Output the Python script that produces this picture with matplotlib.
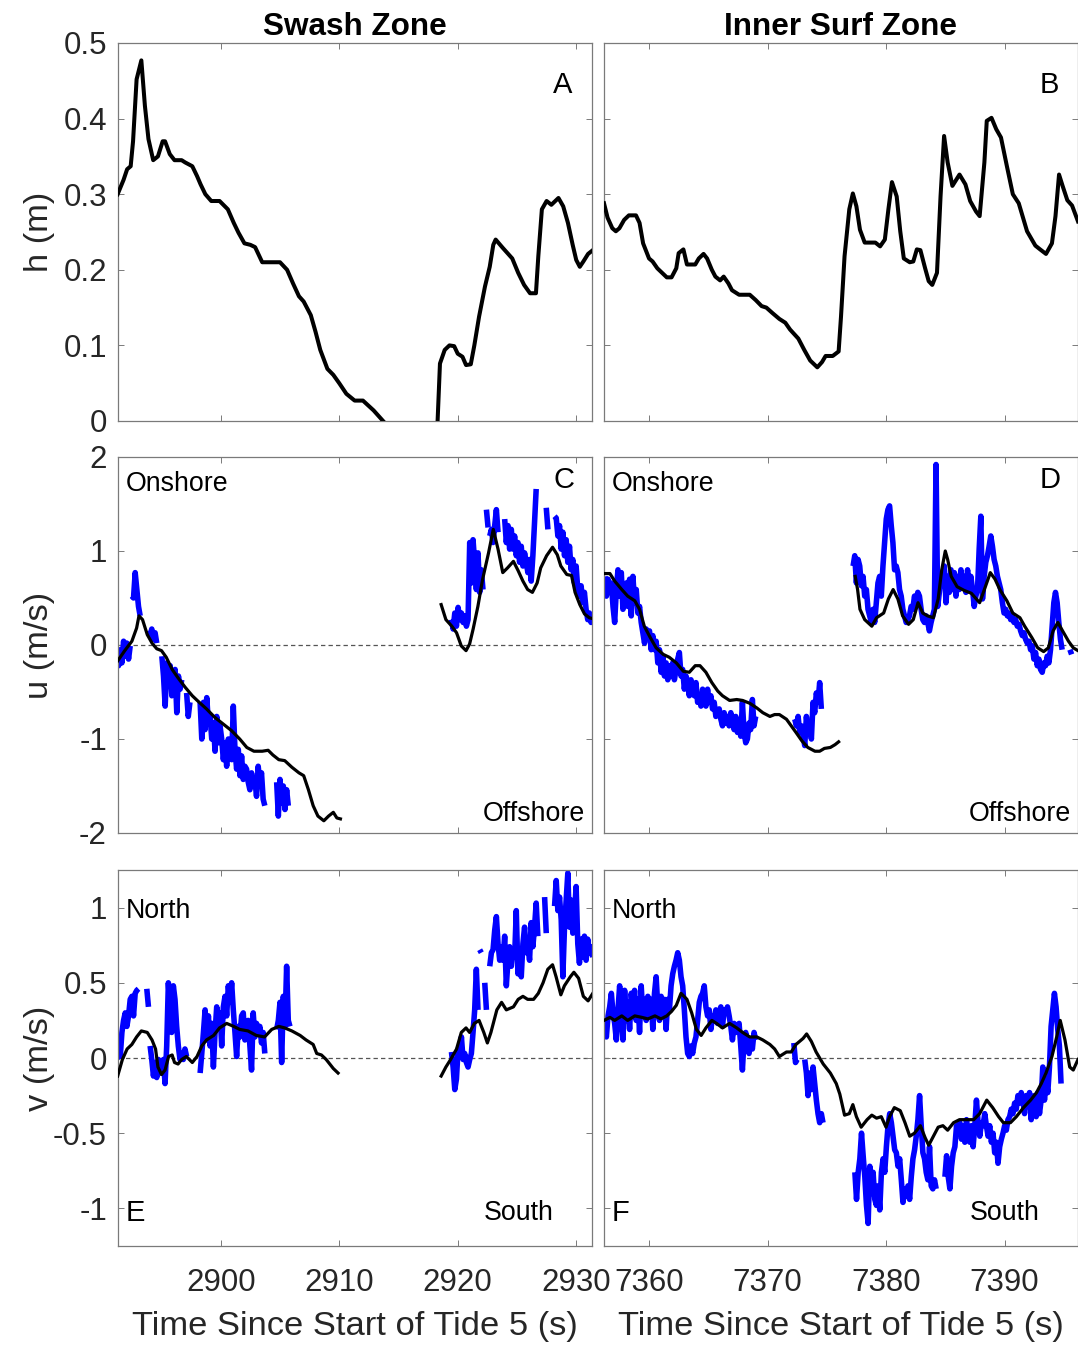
import numpy as np
import matplotlib
matplotlib.use("Agg")
import matplotlib.pyplot as plt

plt.rcParams['font.family'] = ['Liberation Sans', 'DejaVu Sans']
plt.rcParams['axes.unicode_minus'] = False

nan = np.nan

# ---------------- data ----------------
# panel A: water depth, swash zone
a_t = [2891.3, 2891.8, 2892.1, 2892.4, 2892.6, 2892.9, 2893.3, 2893.6, 2893.9, 2894.3,
       2894.7, 2895.1, 2895.3, 2895.7, 2896.1, 2896.7, 2897.0, 2897.6, 2898.0, 2898.3,
       2898.7, 2899.2, 2899.9, 2900.6, 2901.1, 2901.5, 2902.0, 2902.5, 2902.9, 2903.5,
       2904.2, 2905.0, 2905.6, 2906.1, 2906.6, 2907.0, 2907.6, 2908.0, 2908.4, 2909.0,
       2909.5, 2910.0, 2910.6, 2911.3, 2912.0, 2912.9, 2913.7, nan,
       2918.3, 2918.5, 2918.9, 2919.3, 2919.7, 2920.0, 2920.4, 2920.7, 2921.1, 2921.4,
       2921.8, 2922.3, 2922.7, 2923.0, 2923.2, 2923.8, 2924.6, 2925.1, 2925.6, 2926.1,
       2926.6, 2926.8, 2927.1, 2927.5, 2927.9, 2928.5, 2928.9, 2929.3, 2929.7, 2930.0,
       2930.3, 2930.6, 2931.0, 2931.4]
a_h = [0.300, 0.319, 0.333, 0.337, 0.370, 0.452, 0.477, 0.417, 0.373, 0.345,
       0.350, 0.370, 0.370, 0.353, 0.345, 0.345, 0.342, 0.337, 0.324, 0.313,
       0.300, 0.291, 0.291, 0.280, 0.262, 0.249, 0.235, 0.233, 0.230, 0.210,
       0.210, 0.210, 0.200, 0.182, 0.165, 0.158, 0.140, 0.118, 0.094, 0.069,
       0.061, 0.050, 0.036, 0.027, 0.027, 0.014, 0.0, nan,
       0.0, 0.076, 0.094, 0.100, 0.099, 0.089, 0.085, 0.074, 0.075, 0.100,
       0.138, 0.178, 0.204, 0.233, 0.240, 0.229, 0.215, 0.196, 0.180, 0.169,
       0.169, 0.218, 0.280, 0.291, 0.286, 0.295, 0.284, 0.262, 0.233, 0.213,
       0.204, 0.211, 0.221, 0.226]

# panel B: water depth, inner surf zone
b_t = [7356.2, 7356.5, 7356.9, 7357.2, 7357.5, 7357.9, 7358.3, 7358.9, 7359.2, 7359.5,
       7360.0, 7360.3, 7360.7, 7361.1, 7361.5, 7361.9, 7362.3, 7362.5, 7362.9, 7363.2,
       7363.9, 7364.2, 7364.6, 7364.9, 7365.3, 7365.6, 7366.0, 7366.3, 7366.7, 7367.0,
       7367.6, 7368.5, 7369.0, 7369.5, 7369.9, 7370.4, 7371.0, 7371.5, 7371.9, 7372.6,
       7373.1, 7373.6, 7374.2, 7374.6, 7374.9, 7375.5, 7376.0, 7376.2, 7376.5, 7376.9,
       7377.2, 7377.5, 7377.8, 7378.2, 7379.1, 7379.5, 7379.9, 7380.2, 7380.5, 7380.9,
       7381.2, 7381.5, 7382.0, 7382.3, 7382.6, 7382.9, 7383.3, 7383.6, 7383.9, 7384.3,
       7384.6, 7384.9, 7385.2, 7385.6, 7386.2, 7386.7, 7387.1, 7387.6, 7387.9, 7388.3,
       7388.5, 7388.9, 7389.3, 7389.7, 7390.2, 7390.7, 7391.2, 7391.9, 7392.6, 7393.0,
       7393.5, 7394.0, 7394.3, 7394.6, 7394.9, 7395.3, 7395.7, 7396.2]
b_h = [0.288, 0.269, 0.255, 0.251, 0.255, 0.266, 0.272, 0.272, 0.262, 0.235,
       0.215, 0.211, 0.202, 0.196, 0.190, 0.190, 0.202, 0.222, 0.227, 0.207,
       0.207, 0.215, 0.221, 0.215, 0.200, 0.191, 0.186, 0.191, 0.182, 0.173,
       0.167, 0.167, 0.160, 0.152, 0.150, 0.143, 0.135, 0.130, 0.121, 0.109,
       0.094, 0.080, 0.071, 0.078, 0.086, 0.086, 0.092, 0.138, 0.218, 0.280,
       0.301, 0.284, 0.253, 0.236, 0.236, 0.231, 0.240, 0.280, 0.316, 0.297,
       0.251, 0.215, 0.210, 0.211, 0.227, 0.226, 0.202, 0.185, 0.180, 0.196,
       0.297, 0.377, 0.342, 0.311, 0.326, 0.313, 0.291, 0.277, 0.271, 0.342,
       0.397, 0.401, 0.386, 0.375, 0.337, 0.300, 0.288, 0.251, 0.232, 0.227,
       0.221, 0.235, 0.271, 0.326, 0.311, 0.292, 0.285, 0.264]

# panel C: cross-shore velocity, swash zone (black = reference, blue = measured)
c_t = [2891.3, 2891.9, 2892.5, 2892.9, 2893.1, 2893.4, 2893.8, 2894.2, 2894.6, 2895.0,
       2895.4, 2895.9, 2896.4, 2897.0, 2897.6, 2898.1, 2898.8, 2899.5, 2900.2, 2900.9,
       2901.6, 2902.2, 2902.8, 2903.5, 2904.0, 2904.4, 2904.9, 2905.4, 2906.0, 2906.6,
       2907.0, 2907.4, 2907.8, 2908.2, 2908.7, 2909.1, 2909.5, 2909.8, 2910.1, nan,
       2918.6, 2919.0, 2919.5, 2919.9, 2920.3, 2920.7, 2921.0, 2921.3, 2921.7, 2922.1,
       2922.6, 2923.0, 2923.4, 2923.8, 2924.2, 2924.7, 2925.1, 2925.5, 2925.9, 2926.3,
       2926.7, 2927.0, 2927.5, 2928.0, 2928.4, 2928.7, 2929.2, 2929.6, 2929.9, 2930.3,
       2930.7, 2931.1, 2931.4]
c_u = [-0.17, -0.06, 0.04, 0.18, 0.31, 0.27, 0.11, 0.02, -0.04, -0.06,
       -0.13, -0.26, -0.35, -0.45, -0.54, -0.60, -0.68, -0.77, -0.84, -0.91,
       -1.00, -1.09, -1.13, -1.13, -1.12, -1.17, -1.22, -1.23, -1.30, -1.36,
       -1.39, -1.54, -1.71, -1.82, -1.87, -1.82, -1.78, -1.84, -1.85, nan,
       0.43, 0.27, 0.20, 0.13, -0.01, -0.06, 0.01, 0.17, 0.41, 0.70,
       0.98, 1.23, 1.02, 0.77, 0.82, 0.89, 0.79, 0.68, 0.59, 0.56,
       0.66, 0.82, 0.95, 1.04, 0.96, 0.84, 0.75, 0.74, 0.56, 0.43,
       0.33, 0.29, 0.28]

c_blue_t0 = [2891.24, 2892.50, 2893.90, 2895.03, 2897.12, 2898.26, 2904.72,
             2919.47, 2922.42, 2922.70, 2923.96, 2927.47, 2928.17]
c_blue_u = [
    [-0.12, -0.22, -0.05, -0.19, 0.04, -0.12, 0.02, -0.15, -0.01],
    [0.52, 0.50, 0.77, 0.59, 0.41, 0.31],
    [0.15, 0.10, 0.17, 0.06, 0.13, 0.02],
    [-0.12, -0.33, -0.65, -0.19, -0.40, -0.22, -0.54, -0.37, -0.26, -0.72, -0.33, -0.47, -0.37],
    [-0.51, -0.76, -0.61],
    [-0.61, -1.00, -0.61, -0.90, -0.56, -0.83, -0.76, -1.00, -0.83, -1.13, -0.76, -1.04,
     -0.86, -1.00, -1.22, -1.04, -1.29, -1.00, -1.15, -1.22, -0.65, -1.11, -1.32, -1.11,
     -1.39, -1.18, -1.43, -1.29, -1.32, -1.46, -1.54, -1.36, -1.46, -1.43, -1.61, -1.29,
     -1.46, -1.36, -1.64, -1.71],
    [-1.46, -1.82, -1.43, -1.68, -1.50, -1.75, -1.54, -1.71],
    [0.27, 0.17, 0.34, 0.20, 0.40, 0.27, 0.34, 0.24, 0.31, 0.20, 0.27, 1.09, 0.66, 1.12,
     0.88, 0.59, 0.98, 0.56, 0.80, 0.59],
    [1.44, 1.25],
    [1.16, 1.23, 1.09, 1.27, 1.44, 1.20],
    [1.34, 1.09, 1.27, 1.02, 1.23, 1.02, 1.16, 0.95, 1.09, 0.88, 1.05, 0.84, 0.98, 0.88,
     0.77, 0.91, 0.68, 0.95, 1.30, 1.66],
    [1.46, 1.23],
    [1.37, 1.35, 1.16, 1.27, 1.02, 1.20, 0.95, 1.12, 0.88, 1.05, 0.80, 0.91, 0.66, 0.84,
     0.59, 0.52, 0.63, 0.45, 0.56, 0.38, 0.27, 0.34, 0.24, 0.31],
]

# panel D: cross-shore velocity, inner surf zone
d_t = [7356.2, 7356.7, 7357.1, 7357.7, 7358.2, 7358.8, 7359.2, 7359.6, 7360.1, 7360.6,
       7361.2, 7361.7, 7362.3, 7362.9, 7363.4, 7363.9, 7364.3, 7364.8, 7365.3, 7365.8,
       7366.2, 7366.8, 7367.4, 7367.9, 7368.5, 7369.1, 7369.6, 7370.2, 7370.6, 7371.0,
       7371.6, 7372.0, 7372.4, 7372.9, 7373.4, 7374.0, 7374.4, 7374.8, 7375.3, 7375.7,
       7376.0, nan,
       7377.4, 7377.6, 7377.8, 7378.2, 7378.8, 7379.2, 7379.8, 7380.2, 7380.6, 7381.0,
       7381.4, 7381.9, 7382.3, 7382.7, 7383.1, 7383.5, 7384.0, 7384.4, 7384.7, 7385.0,
       7385.2, 7385.5, 7386.0, 7386.6, 7387.2, 7387.9, 7388.3, 7388.8, 7389.2, 7389.6,
       7390.2, 7390.7, 7391.3, 7391.7, 7392.3, 7392.8, 7393.3, 7393.7, 7394.1, 7394.5,
       7394.9, 7395.4, 7395.8, 7396.2]
d_u = [0.76, 0.76, 0.68, 0.59, 0.52, 0.47, 0.38, 0.20, 0.08, -0.03,
       -0.10, -0.13, -0.19, -0.28, -0.29, -0.22, -0.22, -0.29, -0.40, -0.49,
       -0.54, -0.59, -0.58, -0.59, -0.62, -0.67, -0.72, -0.76, -0.74, -0.74,
       -0.79, -0.86, -0.93, -1.02, -1.09, -1.13, -1.13, -1.10, -1.09, -1.06,
       -1.03, nan,
       0.73, 0.59, 0.38, 0.27, 0.20, 0.29, 0.34, 0.49, 0.59, 0.49,
       0.31, 0.22, 0.27, 0.45, 0.34, 0.31, 0.29, 0.49, 0.80, 1.00,
       0.91, 0.73, 0.62, 0.58, 0.55, 0.45, 0.59, 0.77, 0.70, 0.59,
       0.47, 0.34, 0.29, 0.20, 0.08, -0.03, -0.07, -0.03, 0.15, 0.24,
       0.15, 0.04, -0.03, -0.06]

d_blue_t0 = [7356.26, 7372.30, 7377.22, 7395.52]
d_blue_u = [
    [0.73, 0.52, 0.70, 0.56, 0.66, 0.41, 0.24, 0.59, 0.80, 0.52, 0.77, 0.38, 0.52, 0.66,
     0.41, 0.70, 0.31, 0.73, 0.45, 0.59, 0.34, 0.41, 0.24, 0.13, 0.02, 0.17, 0.10, 0.15,
     -0.05, 0.10, -0.05, 0.04, -0.19, -0.05, -0.29, -0.12, -0.33, -0.19, -0.37, -0.22,
     -0.33, -0.19, -0.37, -0.26, -0.15, -0.08, -0.33, -0.26, -0.47, -0.33, -0.40, -0.54,
     -0.37, -0.44, -0.54, -0.40, -0.61, -0.54, -0.65, -0.47, -0.54, -0.65, -0.47, -0.61,
     -0.54, -0.68, -0.61, -0.76, -0.72, -0.68, -0.79, -0.86, -0.72, -0.83, -0.76, -0.86,
     -0.72, -0.79, -0.90, -0.76, -0.93, -0.83, -0.97, -0.61, -0.93, -1.04, -1.00, -0.83,
     -0.90, -0.58, -0.86, -0.76],
    [-0.79, -0.86, -0.76, -0.93, -0.86, -0.97, -1.07, -0.76, -0.93, -0.83, -1.00, -0.61,
     -0.72, -0.51, -0.61, -0.40, -0.68],
    [0.84, 0.95, 0.66, 0.91, 0.84, 0.63, 0.73, 0.52, 0.59, 0.38, 0.31, 0.24, 0.38, 0.24,
     0.45, 0.66, 0.73, 0.52, 0.84, 1.09, 1.34, 1.44, 1.48, 1.27, 1.09, 0.80, 0.84, 0.77,
     0.59, 0.52, 0.38, 0.31, 0.24, 0.27, 0.31, 0.41, 0.38, 0.52, 0.45, 0.56, 0.52, 0.38,
     0.27, 0.24, 0.31, 0.24, 0.15, 0.24, 0.31, 0.38, 1.92, 0.41, 0.56, 0.73, 0.66, 0.84,
     0.45, 0.73, 0.56, 0.80, 0.59, 0.77, 0.52, 0.73, 0.59, 0.80, 0.63, 0.73, 0.56, 0.80,
     0.59, 0.73, 0.59, 0.41, 0.52, 0.59, 1.02, 1.37, 0.49, 0.73, 0.88, 0.95, 1.05, 1.16,
     1.05, 0.91, 0.84, 0.73, 0.66, 0.59, 0.45, 0.34, 0.38, 0.31, 0.34, 0.27, 0.31, 0.24,
     0.27, 0.20, 0.22, 0.15, 0.10, 0.13, 0.06, 0.02, 0.04, -0.05, -0.01, -0.15, -0.08,
     -0.22, -0.15, -0.26, -0.29, -0.19, -0.22, -0.12, -0.19, -0.05, 0.20, 0.45, 0.56,
     0.45, 0.24, 0.06, -0.05],
    [-0.05, -0.10],
]

# panel E: alongshore velocity, swash zone
e_t = [2891.3, 2891.7, 2892.1, 2892.5, 2892.9, 2893.3, 2893.8, 2894.2, 2894.5, 2894.7,
       2895.0, 2895.3, 2895.6, 2895.9, 2896.1, 2896.4, 2896.7, 2897.1, 2897.6, 2898.0,
       2898.4, 2898.8, 2899.4, 2899.9, 2900.5, 2901.1, 2901.6, 2902.3, 2903.0, 2903.7,
       2904.3, 2904.9, 2905.4, 2906.0, 2906.7, 2907.2, 2907.8, 2908.1, 2908.5, 2908.9,
       2909.5, 2909.9, nan,
       2918.6, 2919.0, 2919.4, 2919.9, 2920.3, 2920.7, 2921.0, 2921.4, 2921.8, 2922.2,
       2922.5, 2922.8, 2923.3, 2923.7, 2924.1, 2924.7, 2925.1, 2925.5, 2925.9, 2926.4,
       2926.8, 2927.2, 2927.6, 2928.0, 2928.3, 2928.7, 2929.0, 2929.5, 2929.8, 2930.2,
       2930.6, 2931.0, 2931.4]
e_v = [-0.12, -0.01, 0.06, 0.09, 0.14, 0.18, 0.17, 0.12, 0.06, -0.06,
       -0.11, -0.08, 0.01, 0.02, -0.03, -0.04, -0.01, 0.01, -0.03, 0.01,
       0.08, 0.12, 0.15, 0.20, 0.23, 0.21, 0.19, 0.18, 0.15, 0.14,
       0.19, 0.21, 0.20, 0.18, 0.15, 0.12, 0.09, 0.03, 0.02, -0.01,
       -0.07, -0.10, nan,
       -0.12, -0.06, -0.01, 0.06, 0.17, 0.20, 0.17, 0.23, 0.25, 0.17,
       0.10, 0.17, 0.32, 0.37, 0.32, 0.34, 0.39, 0.41, 0.39, 0.39,
       0.43, 0.50, 0.59, 0.62, 0.54, 0.42, 0.48, 0.54, 0.57, 0.53,
       0.41, 0.38, 0.43]

e_blue_t0 = [2891.24, 2893.76, 2894.04, 2898.26, 2904.72, 2919.47, 2921.85, 2922.28,
             2922.70, 2927.33, 2928.17]
e_blue_v = [
    [-0.01, 0.08, 0.01, 0.17, 0.25, 0.30, 0.21, 0.28, 0.39, 0.41, 0.28, 0.43, 0.45, 0.46],
    [0.46, 0.34],
    [0.08, -0.01, -0.12, -0.03, -0.13, -0.01, -0.10, -0.03, -0.01, -0.17, 0.08, 0.50,
     0.32, 0.17, 0.48, 0.39, 0.21, 0.08, -0.01, 0.03, -0.01, 0.06, 0.01],
    [-0.10, 0.03, 0.17, 0.32, 0.12, 0.28, 0.08, 0.23, -0.06, 0.17, 0.34, 0.21, 0.30,
     0.08, 0.34, 0.41, 0.28, 0.48, 0.37, 0.50, 0.32, 0.17, 0.01, 0.21, 0.14, 0.28, 0.30,
     0.12, 0.21, 0.25, 0.08, -0.08, 0.30, 0.14, 0.23, 0.17, 0.21, 0.10, 0.17, 0.03],
    [0.19, 0.25, 0.37, -0.03, 0.41, 0.21, 0.61, 0.25, 0.21],
    [0.04, -0.06, -0.21, -0.14, 0.06, 0.01, 0.14, -0.01, 0.03, -0.03, -0.06, -0.01,
     0.03, 0.17, 0.32, 0.59, 0.32],
    [0.72, 0.70],
    [0.50, 0.32],
    [0.61, 0.70, 0.72, 0.85, 0.94, 0.76, 0.65, 0.74, 0.65, 0.81, 0.48, 0.65, 0.74, 0.61,
     0.72, 0.67, 0.98, 0.56, 0.65, 0.54, 0.76, 0.87, 0.70, 0.76, 0.65, 0.90, 0.74, 0.87,
     1.03, 0.81],
    [1.07, 0.83],
    [1.01, 1.18, 0.98, 1.07, 0.92, 0.54, 0.87, 1.05, 1.23, 0.87, 1.05, 0.83, 0.96, 1.14,
     0.76, 0.63, 0.79, 0.67, 0.81, 0.65, 0.79, 0.70, 0.74, 0.67],
]

# panel F: alongshore velocity, inner surf zone
f_t = [7356.2, 7356.7, 7357.1, 7357.7, 7358.2, 7358.8, 7359.4, 7359.9, 7360.5, 7361.0,
       7361.5, 7361.9, 7362.3, 7362.7, 7363.2, 7363.6, 7364.0, 7364.4, 7364.8, 7365.3,
       7365.7, 7366.2, 7366.8, 7367.4, 7367.9, 7368.5, 7369.1, 7369.6, 7370.2, 7370.6,
       7371.0, 7371.6, 7372.0, 7372.4, 7373.0, 7373.3, 7373.7, 7374.1, 7374.7, 7375.3,
       7375.8, 7376.1, 7376.5, 7376.9, 7377.2, 7377.5, 7377.9, 7378.4, 7378.8, 7379.2,
       7379.6, 7380.0, 7380.3, 7380.7, 7381.2, 7381.6, 7382.0, 7382.4, 7382.9, 7383.3,
       7383.6, 7384.0, 7384.4, 7384.8, 7385.2, 7385.7, 7386.2, 7386.8, 7387.4, 7387.9,
       7388.5, 7389.0, 7389.5, 7389.9, 7390.5, 7391.0, 7391.6, 7392.2, 7392.7, 7393.1,
       7393.5, 7394.0, 7394.4, 7394.7, 7395.1, 7395.5, 7395.8, 7396.2]
f_v = [0.25, 0.27, 0.25, 0.28, 0.25, 0.28, 0.27, 0.26, 0.28, 0.26,
       0.28, 0.31, 0.35, 0.43, 0.39, 0.30, 0.19, 0.15, 0.20, 0.25,
       0.23, 0.20, 0.23, 0.20, 0.17, 0.14, 0.14, 0.12, 0.09, 0.06,
       0.01, 0.04, 0.04, 0.09, 0.13, 0.16, 0.11, 0.04, -0.04, -0.10,
       -0.17, -0.24, -0.38, -0.37, -0.31, -0.39, -0.46, -0.41, -0.38, -0.40,
       -0.39, -0.46, -0.39, -0.33, -0.35, -0.43, -0.52, -0.50, -0.45, -0.53,
       -0.58, -0.52, -0.46, -0.45, -0.48, -0.43, -0.41, -0.41, -0.41, -0.37,
       -0.28, -0.33, -0.39, -0.43, -0.43, -0.39, -0.33, -0.28, -0.23, -0.17,
       -0.10, 0.01, 0.14, 0.25, 0.12, -0.06, -0.08, -0.01]

f_blue_t0 = [7356.26, 7372.22, 7373.14, 7377.37, 7384.97]
f_blue_v = [
    [0.21, 0.14, 0.28, 0.34, 0.43, 0.30, 0.23, 0.12, 0.32, 0.48, 0.28, 0.12, 0.45, 0.25,
     0.37, 0.19, 0.43, 0.32, 0.45, 0.25, 0.39, 0.17, 0.48, 0.28, 0.39, 0.25, 0.41, 0.30,
     0.39, 0.19, 0.43, 0.54, 0.34, 0.25, 0.41, 0.32, 0.39, 0.19, 0.39, 0.32, 0.48, 0.56,
     0.61, 0.65, 0.70, 0.65, 0.54, 0.48, 0.32, 0.14, 0.03, 0.01, 0.08, 0.03, 0.10, 0.14,
     0.25, 0.37, 0.41, 0.43, 0.48, 0.34, 0.28, 0.32, 0.19, 0.28, 0.25, 0.32, 0.23, 0.30,
     0.34, 0.21, 0.32, 0.30, 0.34, 0.28, 0.21, 0.12, 0.23, 0.17, 0.21, 0.23, 0.08, -0.08,
     0.12, 0.17, 0.08, 0.03, 0.12, 0.06, 0.17, 0.12],
    [0.10, -0.03, -0.01],
    [-0.01, -0.10, -0.25, -0.10, -0.21, -0.06, -0.17, -0.28, -0.37, -0.43, -0.37, -0.43],
    [-0.76, -0.94, -0.76, -0.67, -0.50, -0.65, -0.79, -0.98, -1.10, -0.72, -0.90, -0.76,
     -0.94, -0.98, -0.85, -1.01, -0.76, -0.67, -0.76, -0.59, -0.45, -0.37, -0.43, -0.52,
     -0.61, -0.63, -0.72, -0.67, -0.81, -0.96, -0.87, -0.92, -0.85, -0.94, -0.79, -0.67,
     -0.61, -0.52, -0.41, -0.25, -0.45, -0.63, -0.67, -0.76, -0.81, -0.59, -0.85, -0.87,
     -0.81, -0.87],
    [-0.79, -0.65, -0.79, -0.87, -0.72, -0.63, -0.59, -0.45, -0.50, -0.43, -0.54, -0.45,
     -0.56, -0.41, -0.52, -0.56, -0.45, -0.59, -0.45, -0.28, -0.43, -0.52, -0.43, -0.45,
     -0.37, -0.45, -0.52, -0.45, -0.56, -0.50, -0.63, -0.56, -0.70, -0.59, -0.54, -0.50,
     -0.45, -0.48, -0.41, -0.39, -0.34, -0.37, -0.30, -0.34, -0.25, -0.30, -0.23, -0.28,
     -0.37, -0.25, -0.32, -0.23, -0.41, -0.28, -0.25, -0.39, -0.23, -0.37, -0.28, -0.06,
     -0.28, -0.14, -0.23, -0.06, 0.21, 0.32, 0.43, 0.34, 0.19, 0.08, -0.17],
]

blue_dt = 0.14  # sampling step of the blue series (s)

col_titles = ['Swash Zone', 'Inner Surf Zone']
panel_letters = ['A', 'B', 'C', 'D', 'E', 'F']
xlims = [(2891.33, 2931.33), (7356.2, 7396.2)]
xticks = [[2900, 2910, 2920, 2930], [7360, 7370, 7380, 7390]]

# ---------------- figure ----------------
fig = plt.figure(figsize=(10.78, 13.45), dpi=100)
W, H = 1078.0, 1345.0
col_x = [118, 604]
col_w = 474
row_y = [(43, 421), (457, 833), (870, 1246)]

axes = []
for r in range(3):
    row = []
    for c in range(2):
        y0, y1 = row_y[r]
        ax = fig.add_axes([col_x[c] / W, 1 - y1 / H, col_w / W, (y1 - y0) / H])
        row.append(ax)
    axes.append(row)

tick_col = '#262626'
edge_col = '#7a7a7a'
blue = (0, 0, 1)


def plot_blue(ax, starts, segs):
    for t0, vals in zip(starts, segs):
        t = t0 + blue_dt * np.arange(len(vals))
        ax.plot(t, vals, color=blue, lw=4.0, solid_capstyle='butt', zorder=2)


# row 1: depth
axes[0][0].plot(a_t, a_h, color='k', lw=2.9, zorder=3)
axes[0][1].plot(b_t, b_h, color='k', lw=2.9, zorder=3)

# row 2: cross-shore velocity
plot_blue(axes[1][0], c_blue_t0, c_blue_u)
axes[1][0].plot(c_t, c_u, color='k', lw=2.3, zorder=3)
plot_blue(axes[1][1], d_blue_t0, d_blue_u)
axes[1][1].plot(d_t, d_u, color='k', lw=2.3, zorder=3)

# row 3: alongshore velocity
plot_blue(axes[2][0], e_blue_t0, e_blue_v)
axes[2][0].plot(e_t, e_v, color='k', lw=2.3, zorder=3)
plot_blue(axes[2][1], f_blue_t0, f_blue_v)
axes[2][1].plot(f_t, f_v, color='k', lw=2.3, zorder=3)

ylims = [(0, 0.5), (-2, 2), (-1.25, 1.25)]
yticks = [[0, 0.1, 0.2, 0.3, 0.4, 0.5], [-2, -1, 0, 1, 2], [-1, -0.5, 0, 0.5, 1]]
ytl = [['0', '0.1', '0.2', '0.3', '0.4', '0.5'], ['-2', '-1', '0', '1', '2'],
       ['-1', '-0.5', '0', '0.5', '1']]
ylabels = ['h (m)', 'u (m/s)', 'v (m/s)']

for r in range(3):
    for c in range(2):
        ax = axes[r][c]
        ax.set_xlim(*xlims[c])
        ax.set_ylim(*ylims[r])
        ax.set_xticks(xticks[c])
        ax.set_yticks(yticks[r])
        ax.tick_params(direction='in', length=4, width=0.7, colors=edge_col,
                       labelcolor=tick_col, labelsize=22.5, top=True, right=True)
        ax.tick_params(axis='x', pad=15.5)
        ax.tick_params(axis='y', pad=8)
        for sp in ax.spines.values():
            sp.set_color(edge_col)
            sp.set_linewidth(0.9)
        if r > 0:
            ax.axhline(0, color='#555555', lw=0.9, ls=(0, (3.5, 2.5)), zorder=1)
        if c == 0:
            ax.set_yticklabels(ytl[r])
            ax.set_ylabel(ylabels[r], fontsize=24.8, color=tick_col)
            ax.yaxis.set_label_coords(-0.133, 0.5)
        else:
            ax.set_yticklabels([])
        if r == 2:
            ax.set_xticklabels([str(v) for v in xticks[c]])
            ax.set_xlabel('Time Since Start of Tide 5 (s)', fontsize=24.8, color=tick_col)
            ax.xaxis.set_label_coords(0.5, -0.172)
            ax.xaxis.label.set_va('top')
        else:
            ax.set_xticklabels([])

for c in range(2):
    axes[0][c].set_title(col_titles[c], fontsize=22.7, fontweight='bold', pad=6)

# panel letters and direction labels
txt = dict(fontsize=21, color='k')
axes[0][0].text(0.939, 0.889, panel_letters[0], transform=axes[0][0].transAxes, ha='center', va='center', **txt)
axes[0][1].text(0.939, 0.889, panel_letters[1], transform=axes[0][1].transAxes, ha='center', va='center', **txt)
for c in range(2):
    ax = axes[1][c]
    ax.text(0.941, 0.939, panel_letters[2 + c], transform=ax.transAxes, ha='center', va='center', **txt)
    ax.text(0.017, 0.928, 'Onshore', transform=ax.transAxes, ha='left', va='center', fontsize=19.3)
    ax.text(0.985, 0.050, 'Offshore', transform=ax.transAxes, ha='right', va='center', fontsize=19.3)
    ax = axes[2][c]
    ax.text(0.017, 0.891, 'North', transform=ax.transAxes, ha='left', va='center', fontsize=19.3)
    ax.text(0.017, 0.087, panel_letters[4 + c], transform=ax.transAxes, ha='left', va='center', **txt)
    ax.text(0.918, 0.087, 'South', transform=ax.transAxes, ha='right', va='center', fontsize=19.3)

fig.savefig('out.png', dpi=100)
